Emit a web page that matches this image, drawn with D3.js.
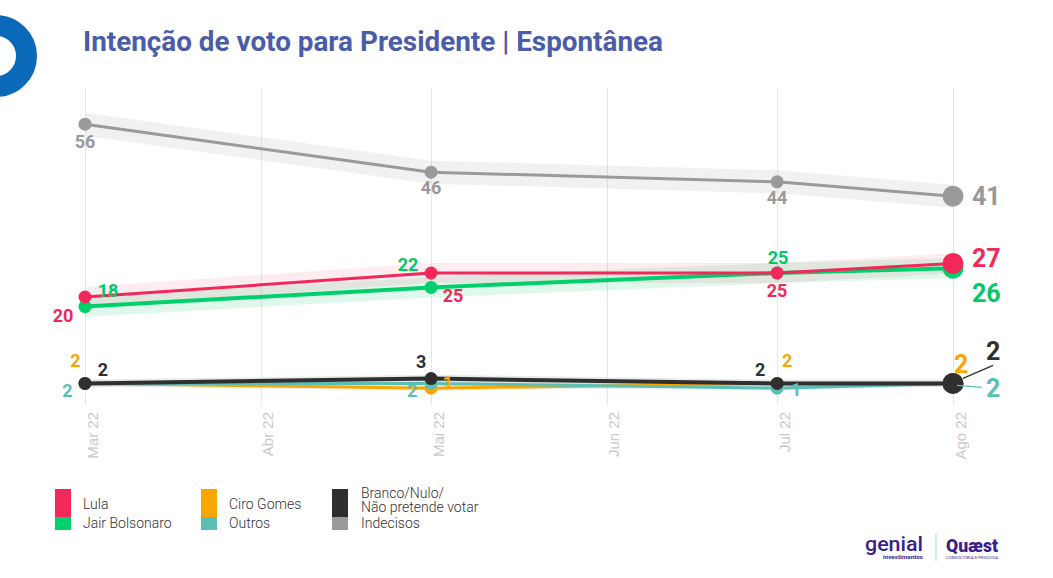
<!DOCTYPE html>
<html>
<head>
<meta charset="utf-8">
<script src="https://cdn.jsdelivr.net/npm/d3@7"></script>
<style>
  html, body { margin: 0; padding: 0; background: #fff; }
  svg { display: block; font-family: Roboto, "Noto Sans", sans-serif; }
</style>
</head>
<body>
<svg id="chart" width="1053" height="578"></svg>
<script>
// ---------- DATA ----------
const dates = ["2022-03-01", "2022-05-01", "2022-07-01", "2022-08-01"];
const tickMonths = ["2022-03-01", "2022-04-01", "2022-05-01", "2022-06-01", "2022-07-01", "2022-08-01"];
const tickLabels = ["Mar 22", "Abr 22", "Mai 22", "Jun 22", "Jul 22", "Ago 22"];

const lula = [20, 25, 25, 27];
const bolsonaro = [18, 22, 25, 26];
const ciro = [2, 1, 2, 2];
const outros = [2, 2, 1, 2];
const branco = [2, 3, 2, 2];
const indecisos = [56, 46, 44, 41];

const seriesNames = ["Lula", "Jair Bolsonaro", "Ciro Gomes", "Outros", "Branco/Nulo/\nNão pretende votar", "Indecisos"];
const title = "Intenção de voto para Presidente | Espontânea";

// ---------- STYLE / LAYOUT ----------
const W = 1053, H = 578;
const svg = d3.select("#chart");

const parse = d3.utcParse("%Y-%m-%d");
const x = d3.scaleUtc()
  .domain([parse(tickMonths[0]), parse(tickMonths[tickMonths.length - 1])])
  .range([85, 953]);
const y = d3.scaleLinear().domain([0, 70]).range([393, 57]);

const colors = {
  lula: "#F2285A", bolsonaro: "#00D06B", ciro: "#F9A602",
  outros: "#5CBFB4", branco: "#2F2F2F", indecisos: "#9A9A9A"
};

// series config (drawing order)
const series = [
  { key: "indecisos", values: indecisos, color: colors.indecisos, lw: 3, band: 2.4, bandColor: "#9a9a9a", bandOp: 0.14, labelColor: "#999999" },
  { key: "ciro", values: ciro, color: colors.ciro, lw: 3, band: 0.6, bandColor: "#c8c8c8", bandOp: 0.25, labelColor: "#F9A602" },
  { key: "outros", values: outros, color: colors.outros, lw: 3, band: 0.6, bandColor: "#c8c8c8", bandOp: 0.25, labelColor: "#5CBFB4" },
  { key: "branco", values: branco, color: colors.branco, lw: 4, band: 0.8, bandColor: "#bdbdbd", bandOp: 0.3, labelColor: "#2F2F2F" },
  { key: "bolsonaro", values: bolsonaro, color: colors.bolsonaro, lw: 4, band: 2.1, bandColor: "#00D06B", bandOp: 0.13, labelColor: "#00C865" },
  { key: "lula", values: lula, color: colors.lula, lw: 3, band: 2.1, bandColor: "#F2285A", bandOp: 0.09, labelColor: "#F2285A" }
];

// label placements (offsets from point, px); last point larger
const labelPos = {
  indecisos: [[0, 24, "middle"], [0, 22, "middle"], [0, 22, "middle"], [19, 9, "start"]],
  lula:      [[-22, 25, "middle"], [22, 29, "middle"], [0, 24, "middle"], [19, 4, "start"]],
  bolsonaro: [[23, -10, "middle"], [-23, -16, "middle"], [1, -9, "middle"], [19, 34, "start"]],
  ciro:      [[-9.5, -16, "middle"], [16.5, 1, "middle"], [10, -16, "middle"], [1, -10, "start"]],
  outros:    [[-17.5, 14, "middle"], [-19, 14, "middle"], [19, 8, "middle"], [33, 14, "start"]],
  branco:    [[18, -7, "middle"], [-10, -11, "middle"], [-17, -7, "middle"], [33, -23, "start"]]
};
const leaders = {
  branco: [10, -5, 40, -18],
  outros: [4, 2, 29, 4]
};

// ---------- LOGO (top-left ring) ----------
svg.append("circle")
  .attr("cx", -4).attr("cy", 56).attr("r", 30.5)
  .attr("fill", "none").attr("stroke", "#0A69B8").attr("stroke-width", 21);

// ---------- TITLE ----------
svg.append("text")
  .attr("x", 83).attr("y", 51)
  .attr("font-size", 27).attr("font-weight", 700)
  .attr("fill", "#4B5CA9")
  .attr("textLength", 580).attr("lengthAdjust", "spacingAndGlyphs")
  .text(title);

// ---------- GRID + X AXIS ----------
const gridTop = 88, gridBottom = 405;
const xAxis = d3.axisBottom(x)
  .tickValues(tickMonths.map(parse))
  .tickFormat((d, i) => tickLabels[i])
  .tickSize(-(gridBottom - gridTop));
const gx = svg.append("g")
  .attr("transform", `translate(0,${gridBottom})`)
  .call(xAxis);
gx.select(".domain").remove();
gx.selectAll(".tick line").attr("stroke", "#e6e6e6").attr("stroke-width", 1);
gx.selectAll(".tick text")
  .attr("fill", "#c9c9c9")
  .attr("font-size", 15).attr("font-weight", 300)
  .attr("text-anchor", "end")
  .attr("y", 0).attr("dy", 0)
  .attr("transform", "translate(12,7) rotate(-90)");

// ---------- BANDS ----------
const pts = dates.map(parse);
const bandsG = svg.append("g");
series.forEach(s => {
  const area = d3.area()
    .x((d, i) => x(pts[i]))
    .y0(d => y(d - s.band))
    .y1(d => y(d + s.band));
  bandsG.append("path")
    .attr("d", area(s.values))
    .attr("fill", s.bandColor)
    .attr("fill-opacity", s.bandOp);
});

// ---------- LINES + POINTS ----------
const line = d3.line().x((d, i) => x(pts[i])).y(d => y(d));
series.forEach(s => {
  const g = svg.append("g");
  g.append("path")
    .attr("d", line(s.values))
    .attr("fill", "none")
    .attr("stroke", s.color)
    .attr("stroke-width", s.lw)
    .attr("stroke-linejoin", "round");
  g.selectAll("circle")
    .data(s.values)
    .join("circle")
    .attr("cx", (d, i) => x(pts[i]))
    .attr("cy", d => y(d))
    .attr("r", (d, i) => i === s.values.length - 1 ? 10.5 : 6.5)
    .attr("fill", s.color);
});

// ---------- LABELS ----------
const labelsG = svg.append("g");
series.forEach(s => {
  const last = s.values.length - 1;
  if (leaders[s.key]) {
    const [x1, y1, x2, y2] = leaders[s.key];
    const px = x(pts[last]), py = y(s.values[last]);
    labelsG.append("line")
      .attr("x1", px + x1).attr("y1", py + y1)
      .attr("x2", px + x2).attr("y2", py + y2)
      .attr("stroke", s.color).attr("stroke-width", 1.2);
  }
  s.values.forEach((v, i) => {
    const [dx, dy, anchor] = labelPos[s.key][i];
    labelsG.append("text")
      .attr("x", x(pts[i]) + dx)
      .attr("y", y(v) + dy)
      .attr("text-anchor", anchor)
      .attr("font-size", i === last ? 25 : 18)
      .attr("font-weight", 700)
      .attr("fill", s.labelColor)
      .text(v);
  });
});

// ---------- LEGEND ----------
const legendCols = [
  { x: 55, items: [[seriesNames[0], colors.lula], [seriesNames[1], colors.bolsonaro]] },
  { x: 201, items: [[seriesNames[2], colors.ciro], [seriesNames[3], colors.outros]] },
  { x: 332, items: [[seriesNames[4], colors.branco], [seriesNames[5], colors.indecisos]] }
];
const legend = svg.append("g");
legendCols.forEach(col => {
  // first item: tall swatch; second item: short swatch
  legend.append("rect").attr("x", col.x).attr("y", 489).attr("width", 16).attr("height", 28).attr("fill", col.items[0][1]);
  legend.append("rect").attr("x", col.x).attr("y", 517).attr("width", 16).attr("height", 13).attr("fill", col.items[1][1]);
  const lines0 = col.items[0][0].split("\n");
  const t0 = legend.append("text")
    .attr("font-size", 14).attr("font-weight", 300).attr("fill", "#333");
  if (lines0.length === 1) {
    t0.attr("x", col.x + 28).attr("y", 509).text(lines0[0]);
  } else {
    lines0.forEach((l, k) => {
      t0.append("tspan").attr("x", col.x + 29).attr("y", 498 + k * 14).text(l);
    });
  }
  legend.append("text")
    .attr("x", col.x + (lines0.length === 1 ? 28 : 29)).attr("y", 528)
    .attr("font-size", 14).attr("font-weight", 300).attr("fill", "#333")
    .text(col.items[1][0]);
});

// ---------- BRAND LOGOS (bottom-right) ----------
const brand = svg.append("g");
brand.append("text").attr("x", 865).attr("y", 551)
  .attr("font-size", 21).attr("font-weight", 500).attr("fill", "#3A1E8E")
  .attr("textLength", 58).attr("lengthAdjust", "spacingAndGlyphs")
  .text("genial");
brand.append("text").attr("x", 883).attr("y", 559)
  .attr("font-size", 5.5).attr("font-weight", 700).attr("fill", "#3A1E8E")
  .attr("textLength", 40).attr("lengthAdjust", "spacingAndGlyphs")
  .text("investimentos");
brand.append("line").attr("x1", 936).attr("x2", 936).attr("y1", 533).attr("y2", 561)
  .attr("stroke", "#8FE3F0").attr("stroke-width", 1);
brand.append("text").attr("x", 946).attr("y", 552)
  .attr("font-size", 19).attr("font-weight", 900).attr("fill", "#3A1E8E")
  .attr("textLength", 52).attr("lengthAdjust", "spacingAndGlyphs")
  .text("Quæst");
brand.append("text").attr("x", 946).attr("y", 559)
  .attr("font-size", 4).attr("font-weight", 400).attr("fill", "#3A1E8E")
  .attr("textLength", 52).attr("lengthAdjust", "spacingAndGlyphs")
  .text("CONSULTORIA E PESQUISA");
</script>
</body>
</html>
